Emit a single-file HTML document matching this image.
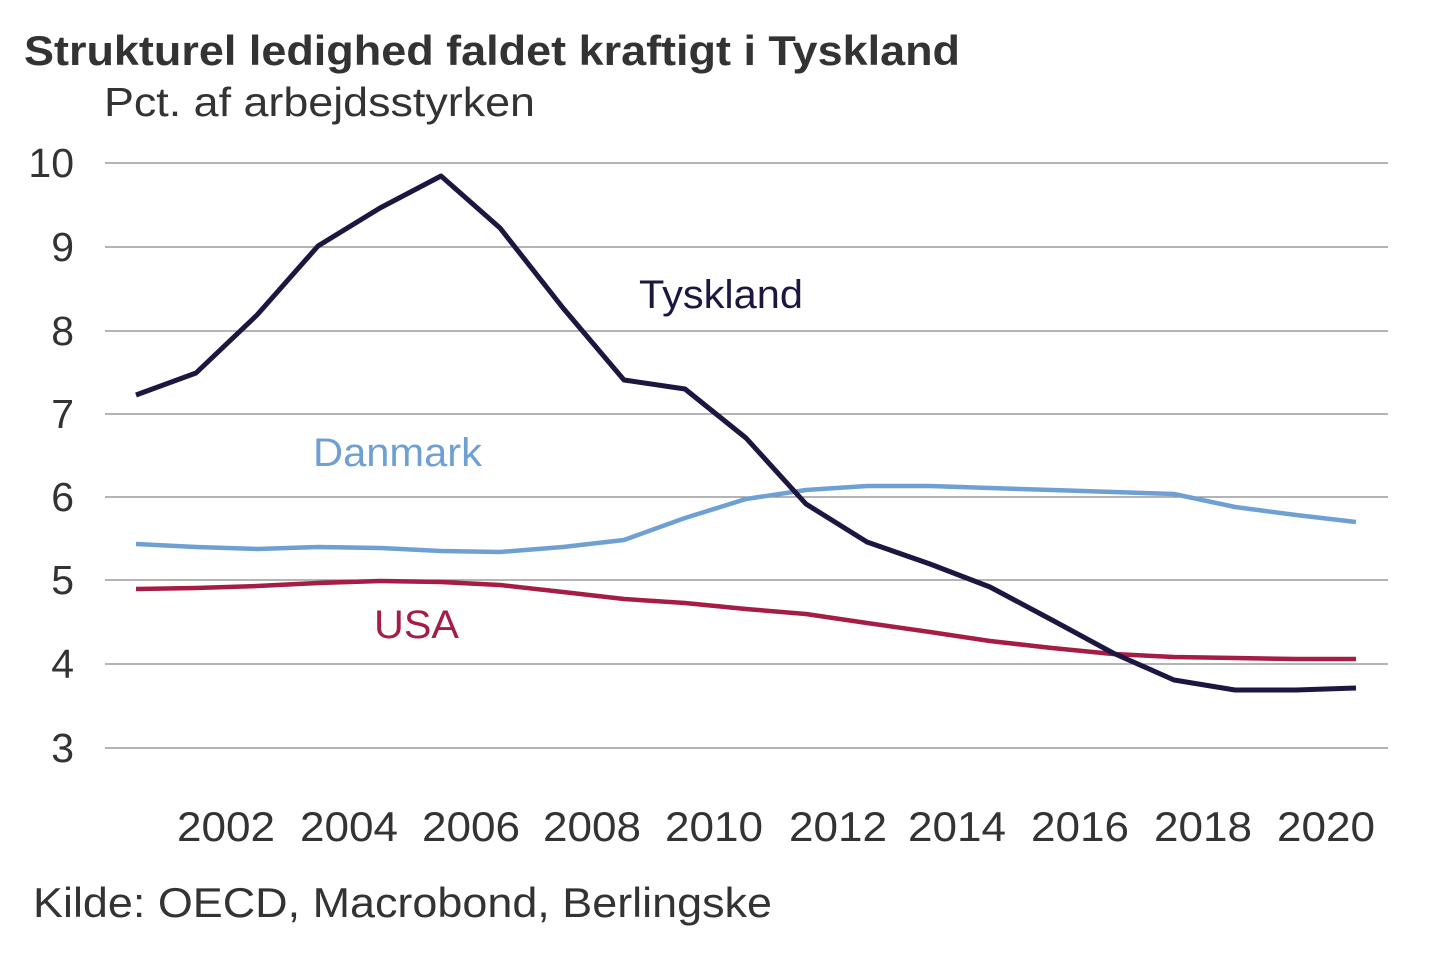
<!DOCTYPE html>
<html><head><meta charset="utf-8"><style>
body{margin:0;background:#fff;}
svg{display:block;font-family:"Liberation Sans",Arial,sans-serif;}
</style></head><body>
<svg width="1440" height="960" viewBox="0 0 1440 960">
<text x="24" y="65" font-size="42" font-weight="bold" fill="#333" textLength="936" lengthAdjust="spacingAndGlyphs">Strukturel ledighed faldet kraftigt i Tyskland</text>
<text x="104" y="116" font-size="41" fill="#333" textLength="431" lengthAdjust="spacingAndGlyphs">Pct. af arbejdsstyrken</text>
<g stroke="#888" stroke-width="1.3">
<line x1="105" x2="1388" y1="163" y2="163"/><line x1="105" x2="1388" y1="247" y2="247"/>
<line x1="105" x2="1388" y1="331" y2="331"/><line x1="105" x2="1388" y1="414" y2="414"/>
<line x1="105" x2="1388" y1="497" y2="497"/><line x1="105" x2="1388" y1="580" y2="580"/>
<line x1="105" x2="1388" y1="664" y2="664"/><line x1="105" x2="1388" y1="748" y2="748"/>
</g>
<g font-size="41" fill="#333" text-anchor="end">
<text x="74" y="177">10</text><text x="74" y="261">9</text><text x="74" y="345">8</text>
<text x="74" y="428">7</text><text x="74" y="511">6</text><text x="74" y="594">5</text>
<text x="74" y="678">4</text><text x="74" y="762">3</text>
</g>
<g font-size="42" fill="#333" text-anchor="middle">
<text x="226" y="841" textLength="98" lengthAdjust="spacingAndGlyphs">2002</text><text x="349" y="841" textLength="98" lengthAdjust="spacingAndGlyphs">2004</text><text x="471" y="841" textLength="98" lengthAdjust="spacingAndGlyphs">2006</text>
<text x="592" y="841" textLength="98" lengthAdjust="spacingAndGlyphs">2008</text><text x="714" y="841" textLength="98" lengthAdjust="spacingAndGlyphs">2010</text><text x="838" y="841" textLength="98" lengthAdjust="spacingAndGlyphs">2012</text>
<text x="957" y="841" textLength="98" lengthAdjust="spacingAndGlyphs">2014</text><text x="1080" y="841" textLength="98" lengthAdjust="spacingAndGlyphs">2016</text><text x="1203" y="841" textLength="98" lengthAdjust="spacingAndGlyphs">2018</text>
<text x="1326" y="841" textLength="98" lengthAdjust="spacingAndGlyphs">2020</text>
</g>
<polyline fill="none" stroke="#6fa0d3" stroke-width="4.5" stroke-linejoin="round" points="136,544 196,547 257,549 318,547 380,548 441,551 500,552 563,547 624,540 685,518 746,499 806,490 867,486 930,486 990,488 1052,490 1113,492 1174,494 1235,507 1296,515 1356,522"/>
<polyline fill="none" stroke="#a51c45" stroke-width="4.5" stroke-linejoin="round" points="136,589 196,588 257,586 318,583 380,581 441,582 500,585 563,592 624,599 685,603 746,609 806,614 867,623 930,632 990,641 1052,648 1113,654 1174,657 1235,658 1296,659 1356,659"/>
<polyline fill="none" stroke="#1c1640" stroke-width="5" stroke-linejoin="round" points="136,395 196,373 257,315 318,246 380,208 441,176 500,228 563,308 624,380 685,389 746,438 806,504 867,542 930,564 990,587 1052,620 1113,653 1174,680 1235,690 1296,690 1356,688"/>
<text x="639" y="308" font-size="40" fill="#1c1640" textLength="164" lengthAdjust="spacingAndGlyphs">Tyskland</text>
<text x="313" y="466" font-size="40" fill="#6fa0d3" textLength="169" lengthAdjust="spacingAndGlyphs">Danmark</text>
<text x="374" y="638" font-size="40" fill="#a51c45" textLength="85" lengthAdjust="spacingAndGlyphs">USA</text>
<text x="33" y="917" font-size="42" fill="#333" textLength="739" lengthAdjust="spacingAndGlyphs">Kilde: OECD, Macrobond, Berlingske</text>
</svg>
</body></html>
